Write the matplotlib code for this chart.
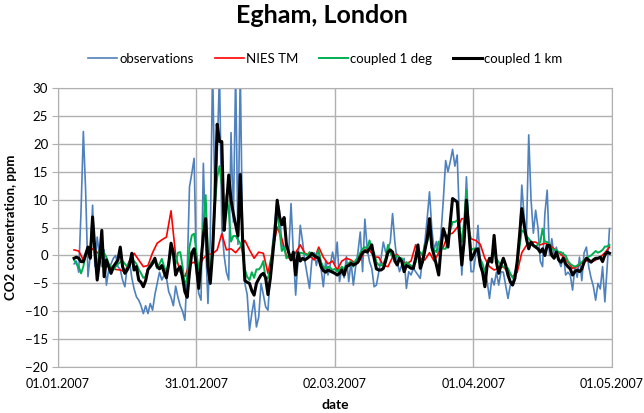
import numpy as np
import matplotlib
matplotlib.use("Agg")
import matplotlib.pyplot as plt
import matplotlib.dates as mdates

plt.rcParams['font.family'] = ['Lato', 'DejaVu Sans']

# CO2 anomalies at Egham (ppm); 12-hourly from 04.01.2007 12:00
observations = [
    -1.5, -1.0, -3.0, 8, 22.2, 11.5, -3.8, 0, 9.0, -2,
    3.3, 0, -2, 1, -5.3, -2.5, -1.5, -0.5, 0, -2,
    -2.5, -4.4, -5.6, -2, -1, -4, -6, -7.4, -8, -9,
    -10.4, -9, -10.4, -8.6, -9.8, -7, -5, -3, -4.4, -3.5,
    -4, -6.5, -7.5, -9, -5.5, -7.5, -9, -10, -11.6, -3,
    12.3, 14.7, 17.4, -3, -6.8, -8, 16.5, 2, -8.6, 3,
    34, 10, 18, 33, 5, 0, -3, -4.4, 22, 6,
    33, 2, 33, 3, -5, -7, -13.4, -10.4, -8, -12.8,
    -11, -5, -7, -9.2, -9.8, -3.5, 2, 6, 10, 8,
    2, 1, 2, 0.5, 9.3, 0.5, -7.1, -1, 5.4, 2.5,
    -1, -3.5, -5.9, -1, 0.5, -1.8, 0.6, -2.3, -5.6, -1,
    -3.5, -1.7, 0.6, -1.5, 2.4, -4.7, -2.3, -4, -0.2, -4.7,
    -1.1, -5.3, -2, 0.6, 4.2, -2.9, 6.5, 1.2, -1.1, -2.3,
    -5.6, -5.3, -3, -0.5, 2.4, 0.6, 1.2, 2.4, 7.5, 2.4,
    -1.1, -2.9, -1.7, -0.5, -5.9, -2.9, -3.5, -2.3, -2.9, -3.5,
    -4.1, -0.5, 2.4, 6.6, 11.4, 4.8, 1, 2.5, 0, 4,
    10, 17, 15, 16.8, 19, 16, 18, 6, -3.5, 3.6,
    14.1, 5, -2.9, -2.9, 0, 5.4, -1.1, -2.9, -2.9, -4.7,
    -7.7, -4.1, -5.3, -3, -5.3, -2.9, -3, -5.3, -7.7, -5.3,
    -5.3, -2.9, -2, 3, 12.6, 7, 3.5, 21.6, 10, 4,
    8.1, 5, -1, -2, 7.5, 11.7, 0, 3, -0.2, 1.5,
    -1, -2, 0.5, -3.5, -3, -3.5, -6.2, -2, -3.9, -0.3,
    -4.5, 0.5, 1.5, -2, -4, -5.5, -8, -5, -6, -2,
    -8.3, -2, 4.8,
]

# NIES TM, daily from 04.01.2007 12:00
nies_tm = [
    1.0, 0.8, -0.8, 0.5, 1.2, 0.6, -0.5, -1.7, -2.2, -2.5,
    -2.6, -2.9, -1.0, 0.4, -0.8, -2.0, -1.8, 0.5, 2.2, 2.8,
    3.3, 8.0, 0.0, -3.0, -3.8, -1.5, -1.2, -2.0, -0.5, 0.2,
    0.3, 1.0, 3.9, 1.0, 1.2, 0.5, 1.5, 2.7, 1.0, -0.5,
    0.6, 0.4, -3.2, 1.0, 5.1, 3.0, 0.0, -0.8, 0.5, 1.9,
    0.4, 0.0, -0.8, 1.5, -0.3, -1.5, -1.0, -2.6, -1.0, -0.5,
    -0.8, -1.5, -0.8, 1.0, 1.0, -0.3, -0.3, -1.8, -2.0, -0.3,
    0.2, -1.0, -1.5, -1.0, 1.9, -0.5, -0.8, 0.5, -1.0, 0.5,
    1.5, 3.7, 4.0, 5.0, 6.6, 6.5, 3.0, 2.7, 2.0, -0.5,
    -2.0, -2.6, -2.3, -2.0, -3.0, -3.8, -3.0, 0.5, 1.8, 2.4,
    2.4, 1.9, 2.2, 1.9, 1.2, 0.5, -0.2, -1.2, -2.3, -2.0,
    -1.3, -0.9, -1.2, -0.8, -0.3, 0.5, 1.5,
]

# coupled model, 1 degree; 12-hourly
coupled_1deg = [
    -0.8, -1.5, -2.0, -3.2, -2.0, 0.2, 1.0, 1.5, 4.5, 0.0,
    -2.0, 1.0, -0.3, 0.4, -0.3, -1.5, -2.0, -2.6, -2.0, -1.5,
    -1.2, -1.0, -1.5, -2.0, -1.2, -1.0, -1.0, -1.5, -2.5, -3.2,
    -4.0, -3.8, -2.5, -1.5, -1.0, -0.8, -2.3, -1.5, -0.6, -2.0,
    -3.0, -1.0, 0.6, 0.0, -1.5, 0.5, 0.6, -2.0, -5.5, -4.0,
    1.5, 3.6, 3.9, 0.5, -2.5, -1.0, 5.4, 10.8, 0.3, -2.5,
    1.5, 9.0, 14.0, 16.0, 12.5, 6.0, 10.8, 8.0, 2.5, 3.5,
    3.5, 2.8, 2.2, 0.5, -2.5, -3.8, -4.4, -3.0, -4.0, -2.5,
    -2.5, -2.0, -1.0, -4.4, -4.0, -2.5, 1.5, 4.0, 8.0, 4.5,
    0.8, 1.5, -0.5, -0.2, 0.0, -0.5, -1.5, -0.5, 0.5, 0.4,
    0.3, 0.0, 0.6, 0.2, -0.2, 0.2, 0.9, -1.2, -2.0, -2.3,
    -2.0, -2.2, -2.6, -2.4, -2.9, -2.5, -2.0, -2.5, -1.7, -1.4,
    -1.0, -2.0, -0.8, -0.5, 0.5, 1.2, 1.5, 1.2, 2.7, 1.0,
    0.5, -1.2, -1.7, -1.8, -1.5, -0.5, 1.9, 0.5, -0.3, -0.5,
    0.0, -0.5, -0.5, -1.7, -1.2, -1.5, -1.8, -2.0, -1.2, 0.5,
    0.6, 0.0, 2.0, 2.5, 4.2, 2.0, 1.0, 0.6, 2.5, 1.5,
    1.2, 1.2, 2.4, 4.5, 6.0, 6.0, 6.3, 5.0, 2.4, 6.0,
    11.7, 5.5, 1.0, 1.2, 1.3, 0.6, -0.6, -1.5, -2.9, -1.5,
    -1.0, -0.5, 0.6, -0.6, -1.2, -1.7, -2.0, -2.3, -2.3, -3.2,
    -4.0, -3.5, -1.8, 1.5, 4.5, 4.2, 3.5, 3.0, 2.5, 1.8,
    1.5, 2.0, 2.4, 4.8, 2.5, 2.4, 2.0, 1.2, 1.0, 1.0,
    0.6, 0.6, 0.2, 0.0, -1.0, -1.5, -1.8, -2.0, -1.8, -1.5,
    -1.2, -0.8, -0.5, -0.2, 0.0, 0.4, 0.8, 0.5, 0.7, 1.0,
    1.6, 1.6, 1.9,
]

# coupled model, 1 km; 12-hourly
coupled_1km = [
    -0.5, -0.3, -0.5, -1.1, -1.1, 0.2, 1.5, -0.5, 6.9, 1.0,
    -4.4, -1.0, 4.5, -3.8, -0.8, -2.0, -3.2, -2.0, -1.4, -0.8,
    1.5, -2.0, -3.2, -2.6, -1.7, 0.4, -2.6, -2.0, -4.4, -4.8,
    -5.6, -4.5, -2.5, -2.0, -1.4, -0.5, -2.0, -2.4, -1.8, -3.0,
    -4.0, -1.5, 2.2, 0.5, -3.5, -2.5, -2.0, -4.0, -6.5, -7.5,
    -3.0, 0.5, 1.2, -2.0, -5.9, -1.0, 3.5, 6.6, -2.0, -5.0,
    0.5, 10, 23.5, 20.4, 20.4, 4.5, 9.0, 14.4, 9.9, 7.5,
    5.5, 3.5, 14.5, 3.0, -4.5, -4.8, -5.0, -6.3, -7.1, -5.0,
    -4.2, -3.5, -3.2, -4.0, -7.0, -4.2, 0.0, 4.0, 9.9, 7.0,
    5.5, 6.8, 2.0, 0.5, -0.8, 0.6, -3.5, 0.5, -1.0, -0.5,
    -0.8, -0.5, -0.2, 0.4, 0.0, -0.3, -0.5, -2.0, -2.7, -3.0,
    -2.6, -2.8, -3.0, -3.2, -3.5, -3.2, -2.6, -3.5, -2.0, -1.8,
    -1.4, -1.7, -1.5, -1.2, -0.2, 0.5, 0.8, 0.6, 1.2, 1.9,
    -0.5, -2.4, -2.6, -2.6, -2.3, -1.0, 0.6, 1.0, 0.6, -1.0,
    -1.7, -0.5, -1.1, -2.9, -1.8, -2.0, -2.3, -2.3, -0.5, 1.9,
    -2.3, -1.1, 1.0, 3.0, 6.6, 1.5, 0.0, -1.7, -3.5, 1.5,
    4.8, 3.5, 1.5, 6.0, 10.2, 9.9, 9.6, 3.5, -1.7, 2.5,
    9.9, 4.8, -0.8, 0.0, 1.0, 1.2, -1.7, -3.0, -5.6, -1.7,
    -0.5, -1.2, 3.6, -1.2, -3.2, -1.7, -0.5, -1.7, -3.5, -4.7,
    -5.3, -4.1, -1.1, 3.5, 8.4, 5.5, 3.0, 1.2, 2.4, 1.8,
    1.5, 1.2, 0.6, 1.2, 0.0, 1.8, 1.8, 0.0, -0.5, 0.6,
    -0.8, -1.2, -0.5, -1.5, -2.0, -2.4, -3.5, -2.9, -2.6, -2.9,
    -2.4, -1.2, -0.5, -0.8, -1.2, -0.8, -0.5, -0.5, -0.3, -1.1,
    0.1, 0.6, 0.4,
]

start = np.datetime64('2007-01-04T12:00')
t_half = start + np.arange(len(observations)) * np.timedelta64(12, 'h')
t_day = start + np.arange(len(nies_tm)) * np.timedelta64(24, 'h')
t_1deg = start + np.arange(len(coupled_1deg)) * np.timedelta64(12, 'h')
t_1km = start + np.arange(len(coupled_1km)) * np.timedelta64(12, 'h')

fig = plt.figure(figsize=(6.44, 4.13), dpi=100)
ax = fig.add_axes([0.090, 0.111, 0.860, 0.676])

ax.plot(t_half, observations, color='#4F81BD', lw=1.2, label='observations')
ax.plot(t_day, nies_tm, color='#FF0000', lw=1.2, label='NIES TM')
ax.plot(t_1deg, coupled_1deg, color='#00B050', lw=1.4, label='coupled 1 deg')
ax.plot(t_1km, coupled_1km, color='black', lw=2.2, label='coupled 1 km')

ax.set_ylim(-20, 30)
ax.set_yticks(np.arange(-20, 31, 5))
ax.set_xlim(np.datetime64('2007-01-01'), np.datetime64('2007-05-01'))
xt = np.datetime64('2007-01-01') + np.arange(5) * np.timedelta64(30, 'D')
ax.set_xticks(xt)
ax.xaxis.set_major_formatter(mdates.DateFormatter('%d.%m.%Y'))

ax.grid(True, color='#b0b0b0', lw=1.0)
ax.set_axisbelow(True)
for s in ax.spines.values():
    s.set_color('#b0b0b0')
ax.tick_params(axis='y', length=4, color='#b0b0b0', labelsize=9.5, pad=3)
ax.tick_params(axis='x', length=0, labelsize=9, pad=8)

ax.set_xlabel('date', fontweight='bold', fontsize=10, labelpad=6)
ax.set_ylabel('CO2 concentration, ppm', fontweight='bold', fontsize=9.5, labelpad=6)

fig.suptitle('Egham, London', fontweight='bold', fontsize=18, y=0.99)
fig.legend(loc='center', bbox_to_anchor=(0.505, 0.857), ncol=4, frameon=False,
           fontsize=9.5, handlelength=2.2, handletextpad=0.15, columnspacing=1.6)

fig.savefig('out.png', dpi=100)
